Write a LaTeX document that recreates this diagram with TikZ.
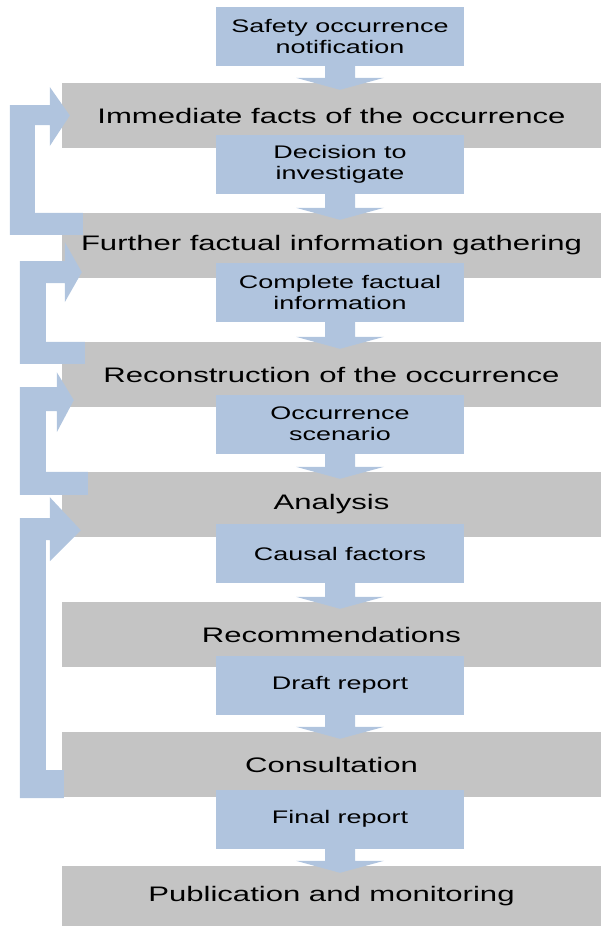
\documentclass[tikz,border=0pt]{standalone}
\usepackage{fontspec}
\setmainfont{Liberation Sans}[FakeStretch=1.48]
\usetikzlibrary{calc}
\definecolor{greybox}{RGB}{196,196,196}
\definecolor{bluebox}{RGB}{176,196,222}
\tikzset{
  stage/.style={fill=greybox, draw=none, minimum width=539pt, minimum height=65pt, inner sep=0pt, font=\fontsize{21}{25}\selectfont, text=black},
  result/.style={fill=bluebox, draw=none, minimum width=248pt, minimum height=59pt, inner sep=0pt, align=center, font=\fontsize{18.2}{21}\selectfont, text=black},
  blockarrow/.style={fill=bluebox, draw=none},
}
\begin{document}
\begin{tikzpicture}[x=1pt,y=-1pt]
\useasboundingbox (0,0) rectangle (601,926);
% grey stages
\node[stage] (g1) at (331.5,115.5) {Immediate facts of the occurrence};
\node[stage] (g2) at (331.5,245.5) {Further factual information gathering};
\node[stage] (g3) at (331.5,374.5) {Reconstruction of the occurrence};
\node[stage] (g4) at (331.5,504.5) {Analysis};
\node[stage] (g5) at (331.5,634.5) {Recommendations};
\node[stage] (g6) at (331.5,764.5) {Consultation};
\node[stage, minimum height=60pt] (g7) at (331.5,896) {Publication and monitoring};
% blue results
\node[result] (b1) at (340,36.5) {Safety occurrence\\notification};
\node[result] (b2) at (340,164.5) {Decision to\\investigate};
\node[result] (b3) at (340,292.5) {Complete factual\\information};
\node[result] (b4) at (340,424) {Occurrence\\scenario};
\node[result] (b5) at (340,553.5) {Causal factors};
\node[result] (b6) at (340,685) {Draft report};
\node[result] (b7) at (340,819) {Final report};
% down arrows
\foreach \b/\g in {b1/g1,b2/g2,b3/g3,b4/g4,b5/g5,b6/g6,b7/g7}{
  \fill[blockarrow] let \p1=(\b.south), \p2=(\g.north) in
    (\x1-15pt,\y1) -- (\x1-15pt,\y2+5pt) -- (\x1-44pt,\y2+5pt) -- (\x1,\y2-7pt)
    -- (\x1+44pt,\y2+5pt) -- (\x1+15pt,\y2+5pt) -- (\x1+15pt,\y1) -- cycle;
}
% feedback loops
\fill[blockarrow] let \p1=(g2.north west), \p2=(g1.west) in
  (\x1+21pt,\y1) -- (\x1+21pt,\y1-22pt) -- (\x1-52pt,\y1-22pt) -- (\x2-52pt,\y2+10.5pt)
  -- (\x2-12pt,\y2+10.5pt) -- (\x2-12pt,\y2+28.5pt) -- (\x2+8pt,\y2) -- (\x2-12pt,\y2-30.5pt)
  -- (\x2-12pt,\y2-9.5pt) -- (\x2-27pt,\y2-9.5pt) -- (\x1-27pt,\y1) -- cycle;
\fill[blockarrow] let \p1=(g3.north west), \p2=(g2.south west) in
  (\x1+23pt,\y1) -- (\x1+23pt,\y1-22pt) -- (\x1-42pt,\y1-22pt) -- (\x2-42pt,\y2+17pt)
  -- (\x2+3pt,\y2+17pt) -- (\x2+3pt,\y2+36pt) -- (\x2+20pt,\y2+6pt) -- (\x2+3pt,\y2-24pt)
  -- (\x2+3pt,\y2-5pt) -- (\x2-16pt,\y2-5pt) -- (\x1-16pt,\y1) -- cycle;
\fill[blockarrow] let \p1=(g4.north west), \p2=(g3.south west) in
  (\x1+26pt,\y1) -- (\x1+26pt,\y1-23pt) -- (\x1-42pt,\y1-23pt) -- (\x2-42pt,\y2+20pt)
  -- (\x2-5pt,\y2+20pt) -- (\x2-5pt,\y2+35pt) -- (\x2+12pt,\y2+7pt) -- (\x2-5pt,\y2-25pt)
  -- (\x2-5pt,\y2-4pt) -- (\x2-16pt,\y2-4pt) -- (\x1-16pt,\y1) -- cycle;
\fill[blockarrow] let \p1=(g6.south west), \p2=(g4.south west) in
  (\x1+2pt,\y1+27pt) -- (\x1+2pt,\y1-1pt) -- (\x1-42pt,\y1-1pt) -- (\x2-42pt,\y2+19pt)
  -- (\x2-12pt,\y2+19pt) -- (\x2-12pt,\y2+40pt) -- (\x2+19pt,\y2+7pt) -- (\x2-12pt,\y2-24pt)
  -- (\x2-12pt,\y2-3pt) -- (\x2-16pt,\y2-3pt) -- (\x1-16pt,\y1+27pt) -- cycle;
\end{tikzpicture}
\end{document}
